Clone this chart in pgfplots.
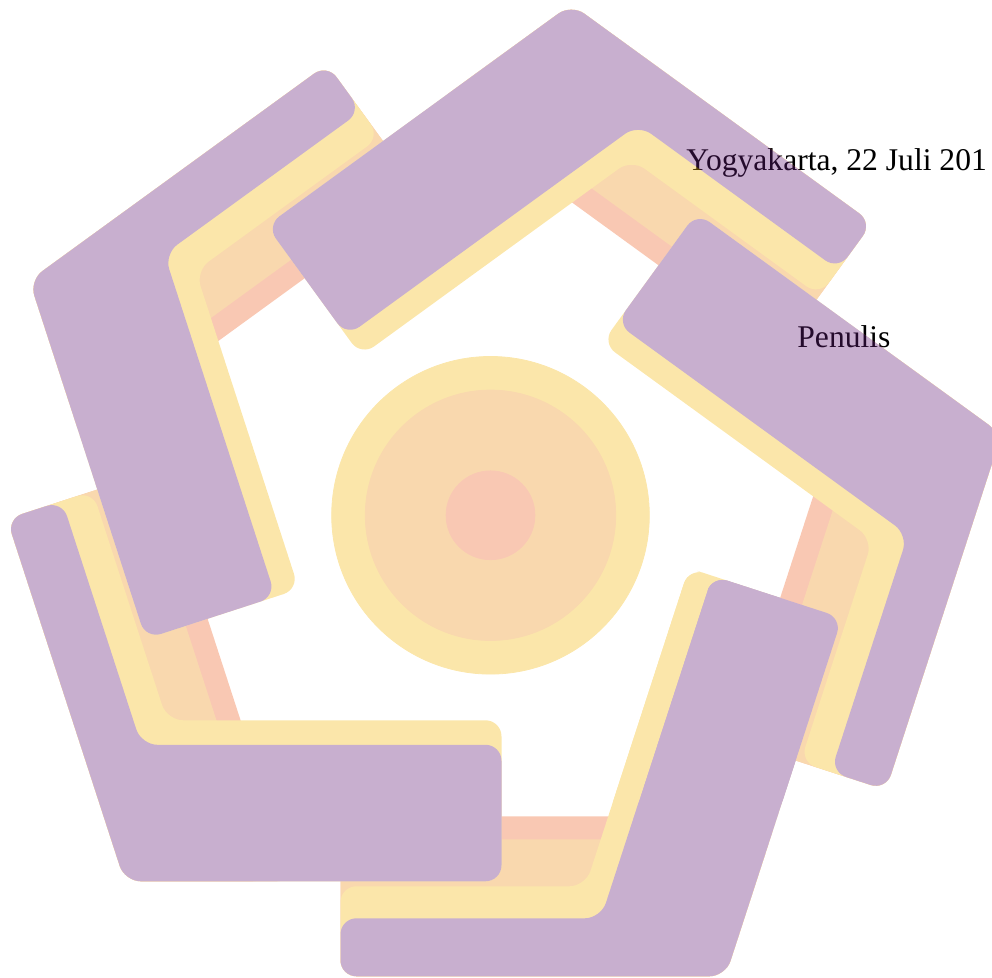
\documentclass[border=0pt]{standalone}
\usepackage{pgfplots}
\pgfplotsset{compat=1.18}
\usepackage{fontspec}
\setmainfont{Liberation Serif}
\definecolor{lpurple}{RGB}{102,32,122}
\definecolor{lyellow}{RGB}{244,186,19}
\definecolor{lorange}{RGB}{238,147,30}
\definecolor{lsalmon}{RGB}{238,102,44}
\pgfplotsset{
  sal/.style={fill=lsalmon, draw=none, rounded corners=8pt},
  ora/.style={fill=lorange, draw=none, rounded corners=8pt},
  yel/.style={fill=lyellow, draw=none, rounded corners=8pt},
  pur/.style={fill=lpurple, draw=none, rounded corners=8pt},
}
\begin{document}
\begin{tikzpicture}
\node[anchor=base west, inner sep=0pt, font=\fontsize{15.8}{19}\selectfont] at (343pt,403.5pt) {Yogyakarta, 22 Juli 201};
\node[anchor=base west, inner sep=0pt, font=\fontsize{15.8}{19}\selectfont] at (398.5pt,315pt) {Penulis};
\begin{scope}[transparency group, opacity=0.36]
\begin{axis}[at={(0pt,0pt)}, anchor=south west, scale only axis,
  width=496pt, height=489pt, xmin=0, xmax=992, ymin=0, ymax=978,
  hide axis, clip=true]
% ---- arm 0 (bottom)
\addplot[sal] coordinates {(340.5,81.7) (340.5,1.7) (725.5,1.7) (777.5,161.7) (340.5,161.7) (340.5,81.7)};
\addplot[ora] coordinates {(340.5,70.2) (340.5,1.7) (725.5,1.7) (770.1,138.7) (340.5,138.7) (340.5,70.2)};
\addplot[yel] coordinates {(340.5,46.7) (340.5,1.7) (725.5,1.7) (842.0,360.1) (688.9,409.8) (585.5,91.7) (340.5,91.7) (340.5,46.7)};
\addplot[pur] coordinates {(340.5,30.7) (340.5,1.7) (725.5,1.7) (842.0,360.1) (712.2,402.2) (600.9,59.7) (340.5,59.7) (340.5,30.7)};
% ---- arm 4 (bottom left)
\addplot[sal] coordinates {(83.0,483.8) (6.9,459.1) (124.7,96.7) (292.9,96.7) (159.1,508.5) (83.0,483.8)};
\addplot[ora] coordinates {(72.1,480.3) (6.9,459.1) (124.7,96.7) (268.8,96.7) (137.2,501.4) (72.1,480.3)};
\addplot[yel] coordinates {(49.7,473.0) (6.9,459.1) (124.7,96.7) (501.5,96.7) (501.5,257.7) (167.0,257.7) (92.5,486.9) (49.7,473.0)};
\addplot[pur] coordinates {(34.5,468.1) (6.9,459.1) (124.7,96.7) (501.5,96.7) (501.5,233.2) (141.3,233.2) (62.1,477.0) (34.5,468.1)};
% ---- arm 3 (top left)
\addplot[sal] coordinates {(374.2,849.1) (327.1,913.8) (29.4,697.5) (81.4,537.5) (421.2,784.4) (374.2,849.1)};
\addplot[ora] coordinates {(367.4,858.4) (327.1,913.8) (29.4,697.5) (73.9,560.5) (407.7,803.0) (367.4,858.4)};
\addplot[yel] coordinates {(353.6,877.4) (327.1,913.8) (29.4,697.5) (145.8,339.1) (298.9,388.9) (195.6,707.0) (380.0,841.0) (353.6,877.4)};
\addplot[pur] coordinates {(344.2,890.4) (327.1,913.8) (29.4,697.5) (145.8,339.1) (275.6,381.3) (164.3,723.9) (361.2,866.9) (344.2,890.4)};
% ---- arm 2 (top)
\addplot[sal] coordinates {(825.3,690.4) (872.3,755.1) (571.3,973.8) (435.2,874.9) (778.3,625.7) (825.3,690.4)};
\addplot[ora] coordinates {(832.1,699.7) (872.3,755.1) (571.3,973.8) (454.8,889.1) (791.8,644.3) (832.1,699.7)};
\addplot[yel] coordinates {(845.9,718.7) (872.3,755.1) (571.3,973.8) (266.5,752.3) (361.1,622.1) (631.7,818.7) (819.4,682.3) (845.9,718.7)};
\addplot[pur] coordinates {(855.3,731.7) (872.3,755.1) (571.3,973.8) (266.5,752.3) (346.7,641.9) (638.1,853.6) (838.2,708.2) (855.3,731.7)};
% ---- arm 1 (right)
\addplot[sal] coordinates {(809.9,212.8) (886.0,188.0) (1001.6,543.8) (865.5,642.7) (733.8,237.5) (809.9,212.8)};
\addplot[ora] coordinates {(820.9,209.2) (886.0,188.0) (1001.6,543.8) (885.0,628.5) (755.7,230.4) (820.9,209.2)};
\addplot[yel] coordinates {(843.2,202.0) (886.0,188.0) (1001.6,543.8) (696.7,765.3) (602.1,635.0) (872.7,438.4) (800.4,215.9) (843.2,202.0)};
\addplot[pur] coordinates {(858.4,197.0) (886.0,188.0) (1001.6,543.8) (696.7,765.3) (616.5,654.8) (907.9,443.1) (830.8,206.0) (858.4,197.0)};
% ---- end of the bottom arm's thick leg, over the right arm
\addplot[pur] coordinates {(706.1,162.7) (777.9,162.7) (842.0,360.1) (712.2,402.2) (634.3,162.7) (706.1,162.7)};
\addplot[yel] coordinates {(621.5,162.7) (634.3,162.7) (712.2,402.2) (688.9,409.8) (608.6,162.7) (621.5,162.7)};
% ---- centre circle
\addplot[lyellow, only marks, mark=*, mark size=79.4pt, mark options={fill=lyellow, draw=lyellow}] coordinates {(490.5,462.7)};
\addplot[lorange, only marks, mark=*, mark size=62.6pt, mark options={fill=lorange, draw=lorange}] coordinates {(490.5,462.7)};
\addplot[lsalmon, only marks, mark=*, mark size=22.2pt, mark options={fill=lsalmon, draw=lsalmon}] coordinates {(490.5,462.7)};
\end{axis}
\end{scope}
\pgfresetboundingbox
\path[use as bounding box] (0pt,0pt) rectangle (496pt,489pt);
\end{tikzpicture}
\end{document}
